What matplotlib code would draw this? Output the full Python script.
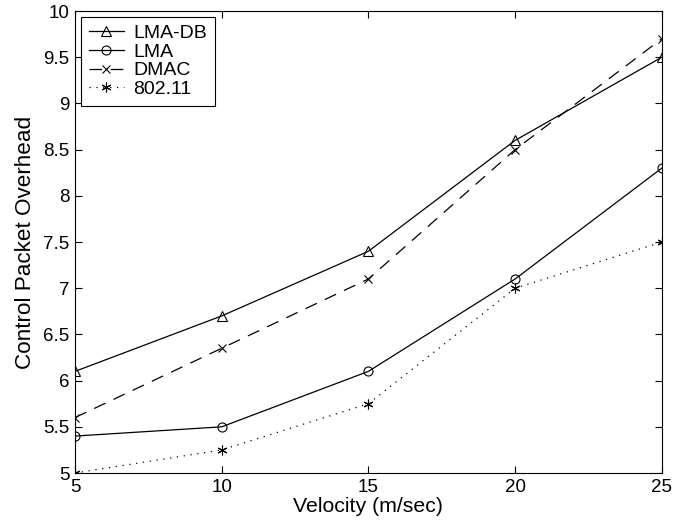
import matplotlib
matplotlib.use('Agg')
import matplotlib.pyplot as plt

plt.rcParams['font.family'] = ['Liberation Sans', 'DejaVu Sans']

VELOCITY = [5, 10, 15, 20, 25]
LMA_DB = [6.1, 6.7, 7.4, 8.6, 9.5]
LMA = [5.4, 5.5, 6.1, 7.1, 8.3]
DMAC = [5.6, 6.35, 7.1, 8.5, 9.7]
IEEE_80211 = [5.0, 5.25, 5.75, 7.0, 7.5]

SERIES_LABELS = ('LMA-DB', 'LMA', 'DMAC', '802.11')
X_TICKS = [5, 10, 15, 20, 25]
Y_TICKS = [5, 5.5, 6, 6.5, 7, 7.5, 8, 8.5, 9, 9.5, 10]


def main():
    fig = plt.figure(figsize=(6.84, 5.25), dpi=100)
    ax = fig.add_axes([0.1096, 0.099, 0.858, 0.880])

    common = dict(color='black', linewidth=0.9, markerfacecolor='none',
                  markeredgecolor='black', markeredgewidth=0.8)

    ax.plot(VELOCITY, LMA_DB, linestyle='-', marker='^', markersize=7,
            label=SERIES_LABELS[0], **common)
    ax.plot(VELOCITY, LMA, linestyle='-', marker='o', markersize=6.5,
            label=SERIES_LABELS[1], **common)
    ax.plot(VELOCITY, DMAC, linestyle=(0, (10, 7)), marker='x', markersize=6,
            label=SERIES_LABELS[2], **common)
    ax.plot(VELOCITY, IEEE_80211, linestyle=(0, (1, 4.5)), marker=(6, 2, 0),
            markersize=7, label=SERIES_LABELS[3], **common)

    ax.set_xlim(5, 25)
    ax.set_ylim(5, 10)
    ax.set_xticks(X_TICKS)
    ax.set_yticks(Y_TICKS)
    ax.set_yticklabels([f'{v:g}' for v in Y_TICKS])

    ax.tick_params(direction='in', top=True, right=True, labelsize=13.5,
                   length=5, width=0.8, pad=4)
    for spine in ax.spines.values():
        spine.set_linewidth(0.8)

    ax.set_xlabel('Velocity (m/sec)', fontsize=15.3, labelpad=1)
    ax.set_ylabel('Control Packet Overhead', fontsize=16.2, labelpad=5)

    leg = ax.legend(loc='upper left', fontsize=14, handlelength=1.8,
                    handletextpad=0.5, borderpad=0.4, labelspacing=0.05,
                    fancybox=False, edgecolor='black', framealpha=1,
                    borderaxespad=0.3)
    leg.get_frame().set_linewidth(0.8)

    fig.savefig('out.png', dpi=100)


if __name__ == '__main__':
    main()
